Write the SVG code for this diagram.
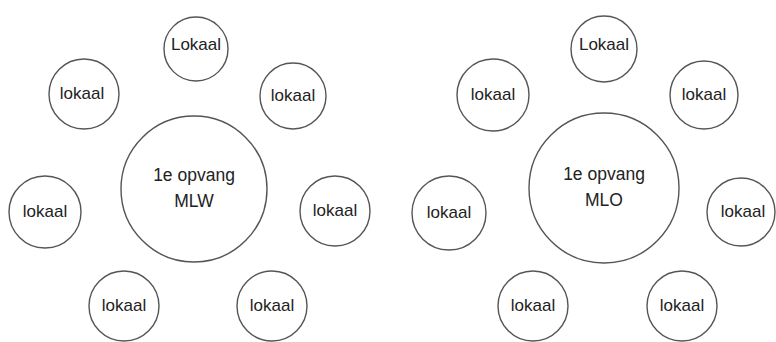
<svg xmlns="http://www.w3.org/2000/svg" width="776" height="342" viewBox="0 0 776 342">
<style>
circle{fill:#fff;stroke:#555;stroke-width:1.4}
text{font-family:"Liberation Sans",Arial,sans-serif;font-size:17px;fill:#222;text-anchor:middle}
.c{font-size:17.5px}
</style>
<rect width="776" height="342" fill="#fff"/>
<g id="left">
<g id="l-center"><circle cx="194" cy="189" r="73"/><text class="c" x="194" y="181">1e opvang</text><text class="c" x="194" y="207">MLW</text></g>
<g id="l-top"><circle cx="196" cy="49" r="32"/><text x="196" y="50">Lokaal</text></g>
<g id="l-ul"><circle cx="84" cy="94" r="35"/><text x="82" y="99">lokaal</text></g>
<g id="l-ur"><circle cx="293" cy="96" r="33"/><text x="293" y="101">lokaal</text></g>
<g id="l-ml"><circle cx="45" cy="212" r="36"/><text x="45" y="217">lokaal</text></g>
<g id="l-mr"><circle cx="335" cy="211" r="35"/><text x="335" y="216">lokaal</text></g>
<g id="l-bl"><circle cx="124" cy="306" r="35"/><text x="124" y="311">lokaal</text></g>
<g id="l-br"><circle cx="272" cy="306" r="35"/><text x="272" y="311">lokaal</text></g>
</g>
<g id="right">
<g id="r-center"><circle cx="604" cy="188" r="75"/><text class="c" x="604" y="180">1e opvang</text><text class="c" x="604" y="206">MLO</text></g>
<g id="r-top"><circle cx="604" cy="49" r="33"/><text x="604" y="50">Lokaal</text></g>
<g id="r-ul"><circle cx="493" cy="95" r="36"/><text x="493" y="100">lokaal</text></g>
<g id="r-ur"><circle cx="704" cy="95" r="34"/><text x="704" y="100">lokaal</text></g>
<g id="r-ml"><circle cx="449" cy="213" r="37"/><text x="449" y="218">lokaal</text></g>
<g id="r-mr"><circle cx="741" cy="212" r="34"/><text x="743" y="217">lokaal</text></g>
<g id="r-bl"><circle cx="533" cy="306" r="35"/><text x="533" y="311">lokaal</text></g>
<g id="r-br"><circle cx="682" cy="306" r="35"/><text x="682" y="311">lokaal</text></g>
</g>
<g id="connectors"/>
</svg>
